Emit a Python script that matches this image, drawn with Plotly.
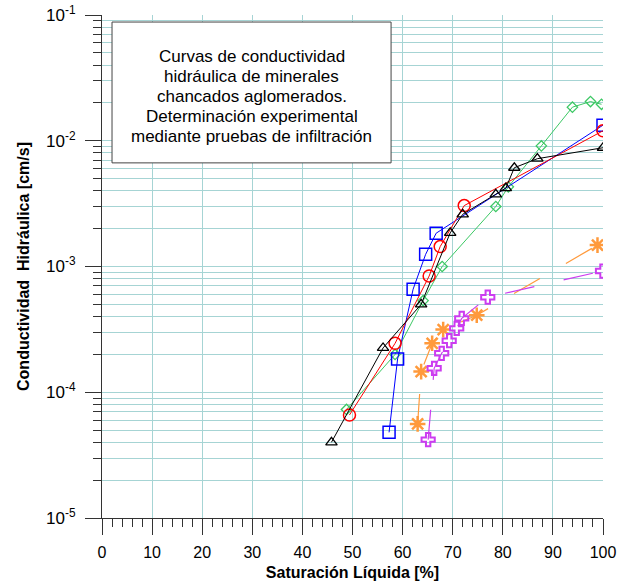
import plotly.graph_objects as go

# Data (x: saturation %, y: conductivity cm/s)
black_x = [45.8, 56.1, 63.7, 69.5, 72.0, 78.6, 80.6, 82.3, 86.9, 100.0]
black_y = [4.0e-5, 2.25e-4, 5.0e-4, 1.85e-3, 2.6e-3, 3.75e-3, 4.2e-3, 6.1e-3, 7.2e-3, 8.8e-3]

red_x = [49.4, 58.5, 65.3, 67.5, 72.3, 100.0]
red_y = [6.6e-5, 2.45e-4, 8.4e-4, 1.44e-3, 3.05e-3, 1.2e-2]

blue_x = [57.3, 59.0, 62.1, 64.6, 66.7, 100.0]
blue_y = [4.8e-5, 1.84e-4, 6.6e-4, 1.25e-3, 1.84e-3, 1.33e-2]

green_x = [48.8, 58.5, 64.1, 67.9, 78.6, 81.1, 87.7, 93.9, 97.5, 99.7]
green_y = [7.3e-5, 2.0e-4, 5.35e-4, 1.0e-3, 3.0e-3, 4.3e-3, 9.1e-3, 1.85e-2, 2.05e-2, 1.95e-2]

orange_x = [63.0, 63.7, 65.9, 68.1, 74.8, 98.9]
orange_y = [5.6e-5, 1.46e-4, 2.45e-4, 3.15e-4, 4.1e-4, 1.48e-3]

purple_x = [65.1, 66.3, 67.8, 69.3, 70.8, 71.8, 77.0, 99.9]
purple_y = [4.2e-5, 1.55e-4, 2.04e-4, 2.57e-4, 3.22e-4, 3.87e-4, 5.7e-4, 9.2e-4]

x_ticks = list(range(0, 101, 10))
y_ticks = [1e-5, 1e-4, 1e-3, 1e-2, 1e-1]
y_ticktext = ["10<sup>-5</sup>", "10<sup>-4</sup>", "10<sup>-3</sup>", "10<sup>-2</sup>", "10<sup>-1</sup>"]

title_lines = ["Curvas de conductividad",
               "hidráulica de minerales",
               "chancados aglomerados.",
               "Determinación experimental",
               "mediante pruebas de infiltración"]

FONT = "Liberation Sans, Arial, sans-serif"
GRID = "#a6d4d4"
AXIS = "#333333"

fig = go.Figure()

def add(x, y, color, symbol, size, mlw=1.5, lw=1.0, dash="solid"):
    fig.add_trace(go.Scatter(
        x=x, y=y, mode="lines+markers",
        line=dict(color=color, width=lw, dash=dash),
        marker=dict(symbol=symbol, size=size, color=color,
                    line=dict(color=color, width=mlw)),
        showlegend=False, hoverinfo="x+y"))

add(orange_x, orange_y, "#ff9a3c", "asterisk-open", 13, mlw=2.5, lw=1.2, dash="30px,30px")
add(purple_x, purple_y, "#cc3cf0", "cross-open", 11, mlw=2, lw=1.2, dash="30px,30px")
add(green_x, green_y, "#3cc864", "diamond-open", 8, mlw=1.3)
add(blue_x, blue_y, "#0000ff", "square-open", 12, mlw=1.5)
add(red_x, red_y, "#ff0000", "circle-open", 12, mlw=1.5)
add(black_x, black_y, "#000000", "triangle-up-open", 10, mlw=1.3)

fig.update_layout(
    width=631, height=583,
    margin=dict(l=102, r=28, t=15, b=65, autoexpand=False),
    paper_bgcolor="white", plot_bgcolor="white",
    font=dict(family=FONT, size=16, color="#000000"),
    xaxis=dict(
        range=[0, 100], tickvals=x_ticks, ticks="outside", ticklen=16, tickcolor=AXIS,
        showline=True, linecolor=AXIS, linewidth=1, showgrid=True, gridcolor=GRID,
        zeroline=False, tickfont=dict(size=16), automargin=False, ticklabelstandoff=4,
        minor=dict(dtick=2, ticks="outside", ticklen=8, tickcolor=AXIS, showgrid=False),
        title=dict(text="<b>Saturación Líquida [%]</b>", font=dict(size=16), standoff=6),
    ),
    yaxis=dict(
        type="log", range=[-5, -1], tickmode="array", tickvals=y_ticks, ticktext=y_ticktext,
        ticks="outside", ticklen=16, tickcolor=AXIS,
        showline=True, linecolor=AXIS, linewidth=1, showgrid=True, gridcolor=GRID,
        zeroline=False, tickfont=dict(size=17), automargin=False, ticklabelstandoff=6,
        minor=dict(dtick="D1", ticks="outside", ticklen=8, tickcolor=AXIS,
                   showgrid=True, gridcolor=GRID),
        title=dict(text="<b>Conductividad  Hidráulica [cm/s]</b>", font=dict(size=16), standoff=12),
    ),
)

fig.add_shape(type="rect", xref="paper", yref="paper",
              x0=0.02, x1=0.577, y0=0.706, y1=0.986,
              line=dict(color="#444444", width=1), fillcolor="white", layer="above")

# plot area: 102..603 px (x), 15..518 px (y); text lines at ~57,77,97,117,136 px
for i, line in enumerate(title_lines):
    py = 57 + i * 19.8
    fig.add_annotation(xref="paper", yref="paper", x=(251.5 - 102) / 501, y=(518 - py) / 503,
                       xanchor="center", yanchor="middle",
                       text=line, showarrow=False, align="center",
                       font=dict(size=17, family=FONT, color="#000000"))

fig.write_html("out.html", config={"displayModeBar": False},
               post_script="document.body.style.margin='0px';")
